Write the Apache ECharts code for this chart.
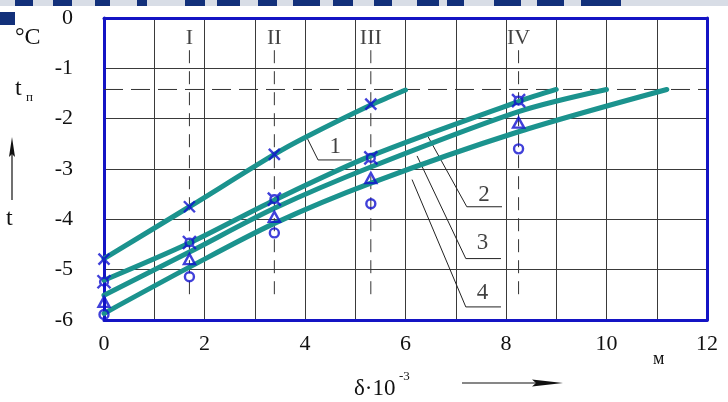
<!DOCTYPE html>
<html>
<head>
<meta charset="utf-8">
<script src="https://cdn.jsdelivr.net/npm/echarts@6/dist/echarts.min.js"></script>
<style>
  html, body { margin: 0; padding: 0; background: #fff; }
  #main { width: 728px; height: 402px; }
</style>
</head>
<body>
<div id="main"></div>
<script>
// thickness readings, x in 10^3 m, temperature in °C
const xTicks = [0, 2, 4, 6, 8, 10, 12];
const yTicks = [0, -1, -2, -3, -4, -5, -6];

const curve1 = [[0, -4.78], [1.7, -3.75], [3.39, -2.71], [4.03, -2.36], [5.31, -1.73], [6.0, -1.43]];
const curve2 = [[0, -5.21], [1.7, -4.47], [3.39, -3.62], [5.31, -2.74], [8.25, -1.66], [9.0, -1.42]];
const curve3 = [[0, -5.51], [1.7, -4.65], [3.39, -3.78], [5.31, -2.96], [8.25, -1.86], [10.0, -1.42]];
const curve4 = [[0, -5.87], [1.7, -4.95], [3.39, -4.08], [5.31, -3.28], [8.25, -2.26], [11.2, -1.42]];

const crossPts = [[0, -4.79], [1.7, -3.75], [3.39, -2.71], [5.31, -1.71]];
const starPts = [[0, -5.24], [1.7, -4.46], [3.39, -3.6], [5.31, -2.78], [8.25, -1.64]];
const triPts = [[0, -5.64], [1.7, -4.79], [3.39, -3.95], [5.31, -3.18], [8.25, -2.08]];
const ringPts = [[0, -5.89], [1.7, -5.14], [3.39, -4.27], [5.31, -3.69], [8.25, -2.6]];

const sectionX = [1.7, 3.39, 5.31, 8.25];
const sectionNames = ["I", "II", "III", "IV"];
const sectionTop = -0.64;
const sectionBottom = -5.5;
const tp = -1.42;

const leader1 = [[4.03, -2.36], [4.26, -2.82], [4.93, -2.82]];
const leader2 = [[6.45, -2.36], [7.22, -3.75], [7.92, -3.75]];
const leader3 = [[6.23, -2.74], [7.2, -4.78], [7.9, -4.78]];
const leader4 = [[6.13, -3.21], [7.2, -5.74], [7.9, -5.74]];
const leaderNames = ["1", "2", "3", "4"];
const leaderLabelPos = [[4.6, -2.56], [7.56, -3.52], [7.53, -4.47], [7.53, -5.46]];

const teal = "#1b938e";
const blue = "#1010d0";
const frame = "#1414c4";
const ink = "#111";
const serif = "'Liberation Serif', 'DejaVu Serif', serif";

var myChart = echarts.init(document.getElementById("main"));

function markerSeries(data, symbol, size) {
  return {
    type: "scatter",
    data: data,
    symbol: symbol,
    symbolSize: size,
    z: 5,
    silent: true,
    itemStyle: {
      color: "rgba(0,0,0,0)",
      borderColor: blue,
      borderWidth: 2.4,
    },
  };
}

function curveSeries(data) {
  return {
    type: "line",
    data: data,
    smooth: 0.3,
    showSymbol: false,
    silent: true,
    z: 4,
    lineStyle: { color: teal, width: 5, cap: "round" },
  };
}

function thinLine(data, dash, color) {
  return {
    type: "line",
    data: data,
    showSymbol: false,
    silent: true,
    z: 3,
    lineStyle: { color: color, width: 1, type: dash },
  };
}

const series = [];
sectionX.forEach(function (x) {
  series.push(thinLine([[x, sectionTop], [x, sectionBottom]], [13, 8], "#333"));
});
series.push(thinLine([[0, tp], [12, tp]], [19, 8], "#333"));
[leader1, leader2, leader3, leader4].forEach(function (l) {
  series.push(thinLine(l, "solid", "#222"));
});
[curve1, curve2, curve3, curve4].forEach(function (c) {
  series.push(curveSeries(c));
});
series.push(markerSeries(crossPts, "path://M0,0L10,10M10,0L0,10", 11));
series.push(
  markerSeries(
    starPts,
    "path://M0,0L3,3M12,0L9,3M0,12L3,9M12,12L9,9M9.6,6A3.6,3.6,0,1,1,2.4,6A3.6,3.6,0,1,1,9.6,6",
    13
  )
);
series.push(markerSeries(triPts, "triangle", [11, 10]));
series.push(markerSeries(ringPts, "circle", 9));

// roman section names
series.push({
  type: "scatter",
  data: sectionX.map(function (x, i) {
    return { value: [x, -0.4], name: sectionNames[i] };
  }),
  symbolSize: 1,
  silent: true,
  itemStyle: { color: "rgba(0,0,0,0)" },
  label: {
    show: true,
    position: "inside",
    formatter: "{b}",
    fontFamily: serif,
    fontSize: 22,
    color: ink,
  },
});
// curve numbers
series.push({
  type: "scatter",
  data: leaderLabelPos.map(function (p, i) {
    return { value: p, name: leaderNames[i] };
  }),
  symbolSize: 1,
  silent: true,
  itemStyle: { color: "rgba(0,0,0,0)" },
  label: {
    show: true,
    position: "inside",
    formatter: "{b}",
    fontFamily: serif,
    fontSize: 23,
    color: ink,
  },
});

const topBlocks = [15, 53, 95, 137, 185, 217, 258, 293, 333, 374, 417, 447, 494, 537, 581];
const topWidths = [18, 19, 15, 10, 20, 23, 19, 27, 20, 18, 22, 17, 27, 27, 40];

myChart.setOption({
  backgroundColor: "#fff",
  animation: false,
  grid: { left: 104, right: 21, top: 18, bottom: 82 },
  xAxis: [
    {
      type: "value",
      min: 0,
      max: 12,
      interval: 1,
      axisLine: { show: true, onZero: false, lineStyle: { color: frame, width: 3 } },
      axisTick: { show: false },
      axisLabel: {
        margin: 13,
        fontFamily: serif,
        fontSize: 22,
        color: ink,
        formatter: function (v) {
          return xTicks.indexOf(v) >= 0 ? String(v) : "";
        },
      },
      splitLine: { show: true, showMinLine: false, showMaxLine: false, lineStyle: { color: "#3a3a3a", width: 1 } },
    },
    {
      type: "value",
      position: "top",
      min: 0,
      max: 12,
      interval: 1,
      axisLine: { show: true, onZero: false, lineStyle: { color: frame, width: 3 } },
      axisTick: { show: false },
      axisLabel: { show: false },
      splitLine: { show: false },
    },
  ],
  yAxis: [
    {
      type: "value",
      min: -6,
      max: 0,
      interval: 1,
      axisLine: { show: true, onZero: false, lineStyle: { color: frame, width: 3 } },
      axisTick: { show: false },
      axisLabel: {
        margin: 31,
        fontFamily: serif,
        fontSize: 22,
        color: ink,
        formatter: function (v) {
          return yTicks.indexOf(v) >= 0 ? String(v) : "";
        },
      },
      splitLine: { show: true, showMinLine: false, showMaxLine: false, lineStyle: { color: "#3a3a3a", width: 1 } },
    },
    {
      type: "value",
      position: "right",
      min: -6,
      max: 0,
      interval: 1,
      axisLine: { show: true, onZero: false, lineStyle: { color: frame, width: 3 } },
      axisTick: { show: false },
      axisLabel: { show: false },
      splitLine: { show: false },
    },
  ],
  graphic: [
    // slide banner remnants at the top
    { type: "rect", shape: { x: 0, y: 0, width: 728, height: 6 }, style: { fill: "#d8dde6" } },
    ...topBlocks.map(function (x, i) {
      return { type: "rect", shape: { x: x, y: 0, width: topWidths[i], height: 6 }, style: { fill: "#12307a" } };
    }),
    { type: "rect", shape: { x: 0, y: 12, width: 15, height: 13 }, style: { fill: "#12307a" } },
    // left axis caption
    { type: "text", left: 15, top: 26, style: { text: "°C", font: "24px " + serif, fill: ink } },
    { type: "text", left: 15, top: 77, style: { text: "t", font: "24px " + serif, fill: ink } },
    { type: "text", left: 26, top: 91, style: { text: "п", font: "13px " + serif, fill: ink } },
    { type: "line", shape: { x1: 12, y1: 200, x2: 12, y2: 150 }, style: { stroke: ink, lineWidth: 1.2 } },
    { type: "polygon", shape: { points: [[12, 137], [9, 157], [12, 154], [15, 157]] }, style: { fill: ink } },
    { type: "text", left: 6, top: 207, style: { text: "t", font: "24px " + serif, fill: ink } },
    // bottom axis caption
    { type: "text", left: 354, top: 377, style: { text: "δ·10", font: "23px " + serif, fill: ink } },
    { type: "text", left: 399, top: 370, style: { text: "-3", font: "13px " + serif, fill: ink } },
    { type: "line", shape: { x1: 462, y1: 383, x2: 545, y2: 383 }, style: { stroke: ink, lineWidth: 1.2 } },
    { type: "polygon", shape: { points: [[563, 383], [532, 379.5], [536, 383], [532, 386.5]] }, style: { fill: ink } },
    { type: "text", left: 653, top: 350, style: { text: "м", font: "18px " + serif, fill: ink } },
  ],
  series: series,
});
</script>
</body>
</html>
